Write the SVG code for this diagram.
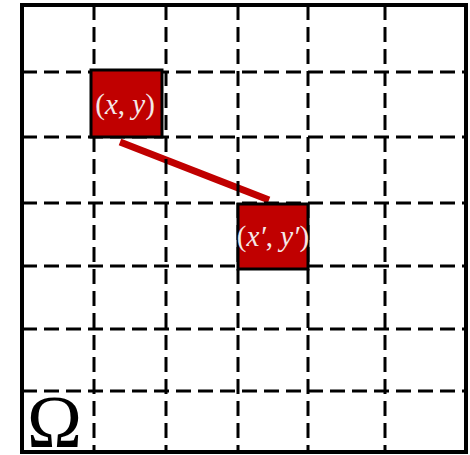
<svg xmlns="http://www.w3.org/2000/svg" width="470" height="455" viewBox="0 0 470 455">
<style>
.grid{stroke:#000;stroke-width:3;stroke-dasharray:15 7;fill:none}
.sq{fill:#c00000;stroke:#000;stroke-width:3}
.lbl{font-family:"Liberation Serif",serif;font-size:29px;fill:#f4e8e8}
.it{font-style:italic}
</style>
<rect x="0" y="0" width="470" height="455" fill="#fff"/>
<g id="connectors">
<line x1="120" y1="142" x2="269" y2="200" stroke="#c00000" stroke-width="7"/>
</g>
<g id="grid">
<path class="grid" d="M22 72H466M22 137H466M22 203H466M22 266H466M22 329H466M22 391H466"/>
<path class="grid" d="M94 5V452M166 5V452M238 5V452M308 5V452M385 5V452"/>
<rect x="22" y="5" width="444" height="447" fill="none" stroke="#000" stroke-width="4"/>
</g>
<g id="node-xy">
<rect class="sq" x="91" y="70" width="71" height="67"/>
<text class="lbl" x="125" y="114" text-anchor="middle">(<tspan class="it">x</tspan>, <tspan class="it">y</tspan>)</text>
</g>
<g id="node-xpyp">
<rect class="sq" x="238" y="204" width="70" height="65"/>
<text class="lbl" x="273" y="246" text-anchor="middle">(<tspan class="it">x′</tspan>, <tspan class="it">y′</tspan>)</text>
</g>
<text x="27" y="447" font-family="Liberation Serif,serif" font-size="74" fill="#000">Ω</text>
</svg>
